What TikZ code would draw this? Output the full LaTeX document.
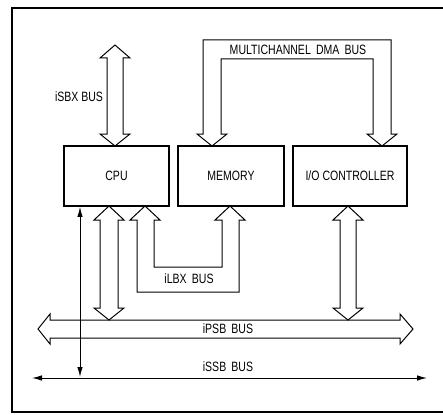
\documentclass[tikz,border=0pt]{standalone}
\usepackage{fontspec}
\newfontfamily\busfont{Liberation Sans}[FakeStretch=0.78]
\usepackage{tikz}
\usetikzlibrary{arrows.meta}

\begin{document}
\begin{tikzpicture}[x=1pt, y=-1pt,
    every node/.style={font=\busfont\fontsize{13.5}{14}\selectfont},
    unit/.style={draw, line width=1.7pt, inner sep=0pt},
    bus/.style={draw, line width=1pt, line join=miter},
    thin/.style={line width=1pt, {Latex[length=10pt,width=5.5pt]}-{Latex[length=10pt,width=5.5pt]}}]
	\useasboundingbox (0,0) rectangle (443,414);
	% outer frame
	\draw[line width=1.3pt] (443,8) -- (12,8) -- (12,412) -- (443,412);
	
	% boards
	\node[unit, minimum width=105pt, minimum height=60pt] (cpu) at (116.5,176) {CPU};
	\node[unit, minimum width=106pt, minimum height=60pt] (mem) at (231,176) {MEMORY};
	\node[unit, minimum width=114pt, minimum height=60pt] (ioc) at (350,176) {I/O CONTROLLER};
	
	% iSBX bus
	\draw[bus] (115,45) -- (130,58) -- (123,58) -- (123,134) -- (130,134) -- (115,146)
		-- (100,134) -- (107,134) -- (107,58) -- (100,58) -- cycle;
	\node (sbx) at (79,97) {iSBX BUS};
	
	% Multichannel DMA bus
	\draw[bus] (212,146) -- (227,134) -- (221,134) -- (221,59) -- (373,59) -- (373,134)
		-- (367,134) -- (382,146) -- (397,134) -- (391,134) -- (391,40) -- (203,40)
		-- (203,134) -- (197,134) -- cycle;
	\node (dma) at (298,50) {MULTICHANNEL\, DMA\, BUS};
	
	% iLBX bus
	\draw[bus] (145,206) -- (160,220) -- (154,220) -- (154,267) -- (222,267) -- (222,220)
		-- (215,220) -- (230,206) -- (245,220) -- (239,220) -- (239,292) -- (137,292)
		-- (137,220) -- (130,220) -- cycle;
	\node (lbx) at (189,279) {iLBX\, BUS};
	
	% CPU and I/O down to iPSB
	\draw[bus] (109,206) -- (124,220) -- (118,220) -- (118,308) -- (124,308) -- (109,320)
		-- (94,308) -- (100,308) -- (100,220) -- (94,220) -- cycle;
	\draw[bus] (348,206) -- (363,220) -- (356,220) -- (356,308) -- (363,308) -- (348,320)
		-- (333,308) -- (340,308) -- (340,220) -- (333,220) -- cycle;
	
	% iPSB bus
	\draw[bus] (38,329) -- (50,314) -- (50,320) -- (400,320) -- (400,314) -- (413,329)
		-- (400,344) -- (400,338) -- (50,338) -- (50,344) -- cycle;
	\node (psb) at (228,329) {iPSB\, BUS};
	
	% iSSB bus
	\coordinate (ssbl) at (32,378);
	\coordinate (ssbr) at (427,378);
	\coordinate (ssbt) at (80,377);
	\draw[thin] (ssbl) -- (ssbr);
	\node (ssb) at (228,367) {iSSB\, BUS};
	\draw[thin] (cpu.south -| ssbt) -- (ssbt);
\end{tikzpicture}
\end{document}
